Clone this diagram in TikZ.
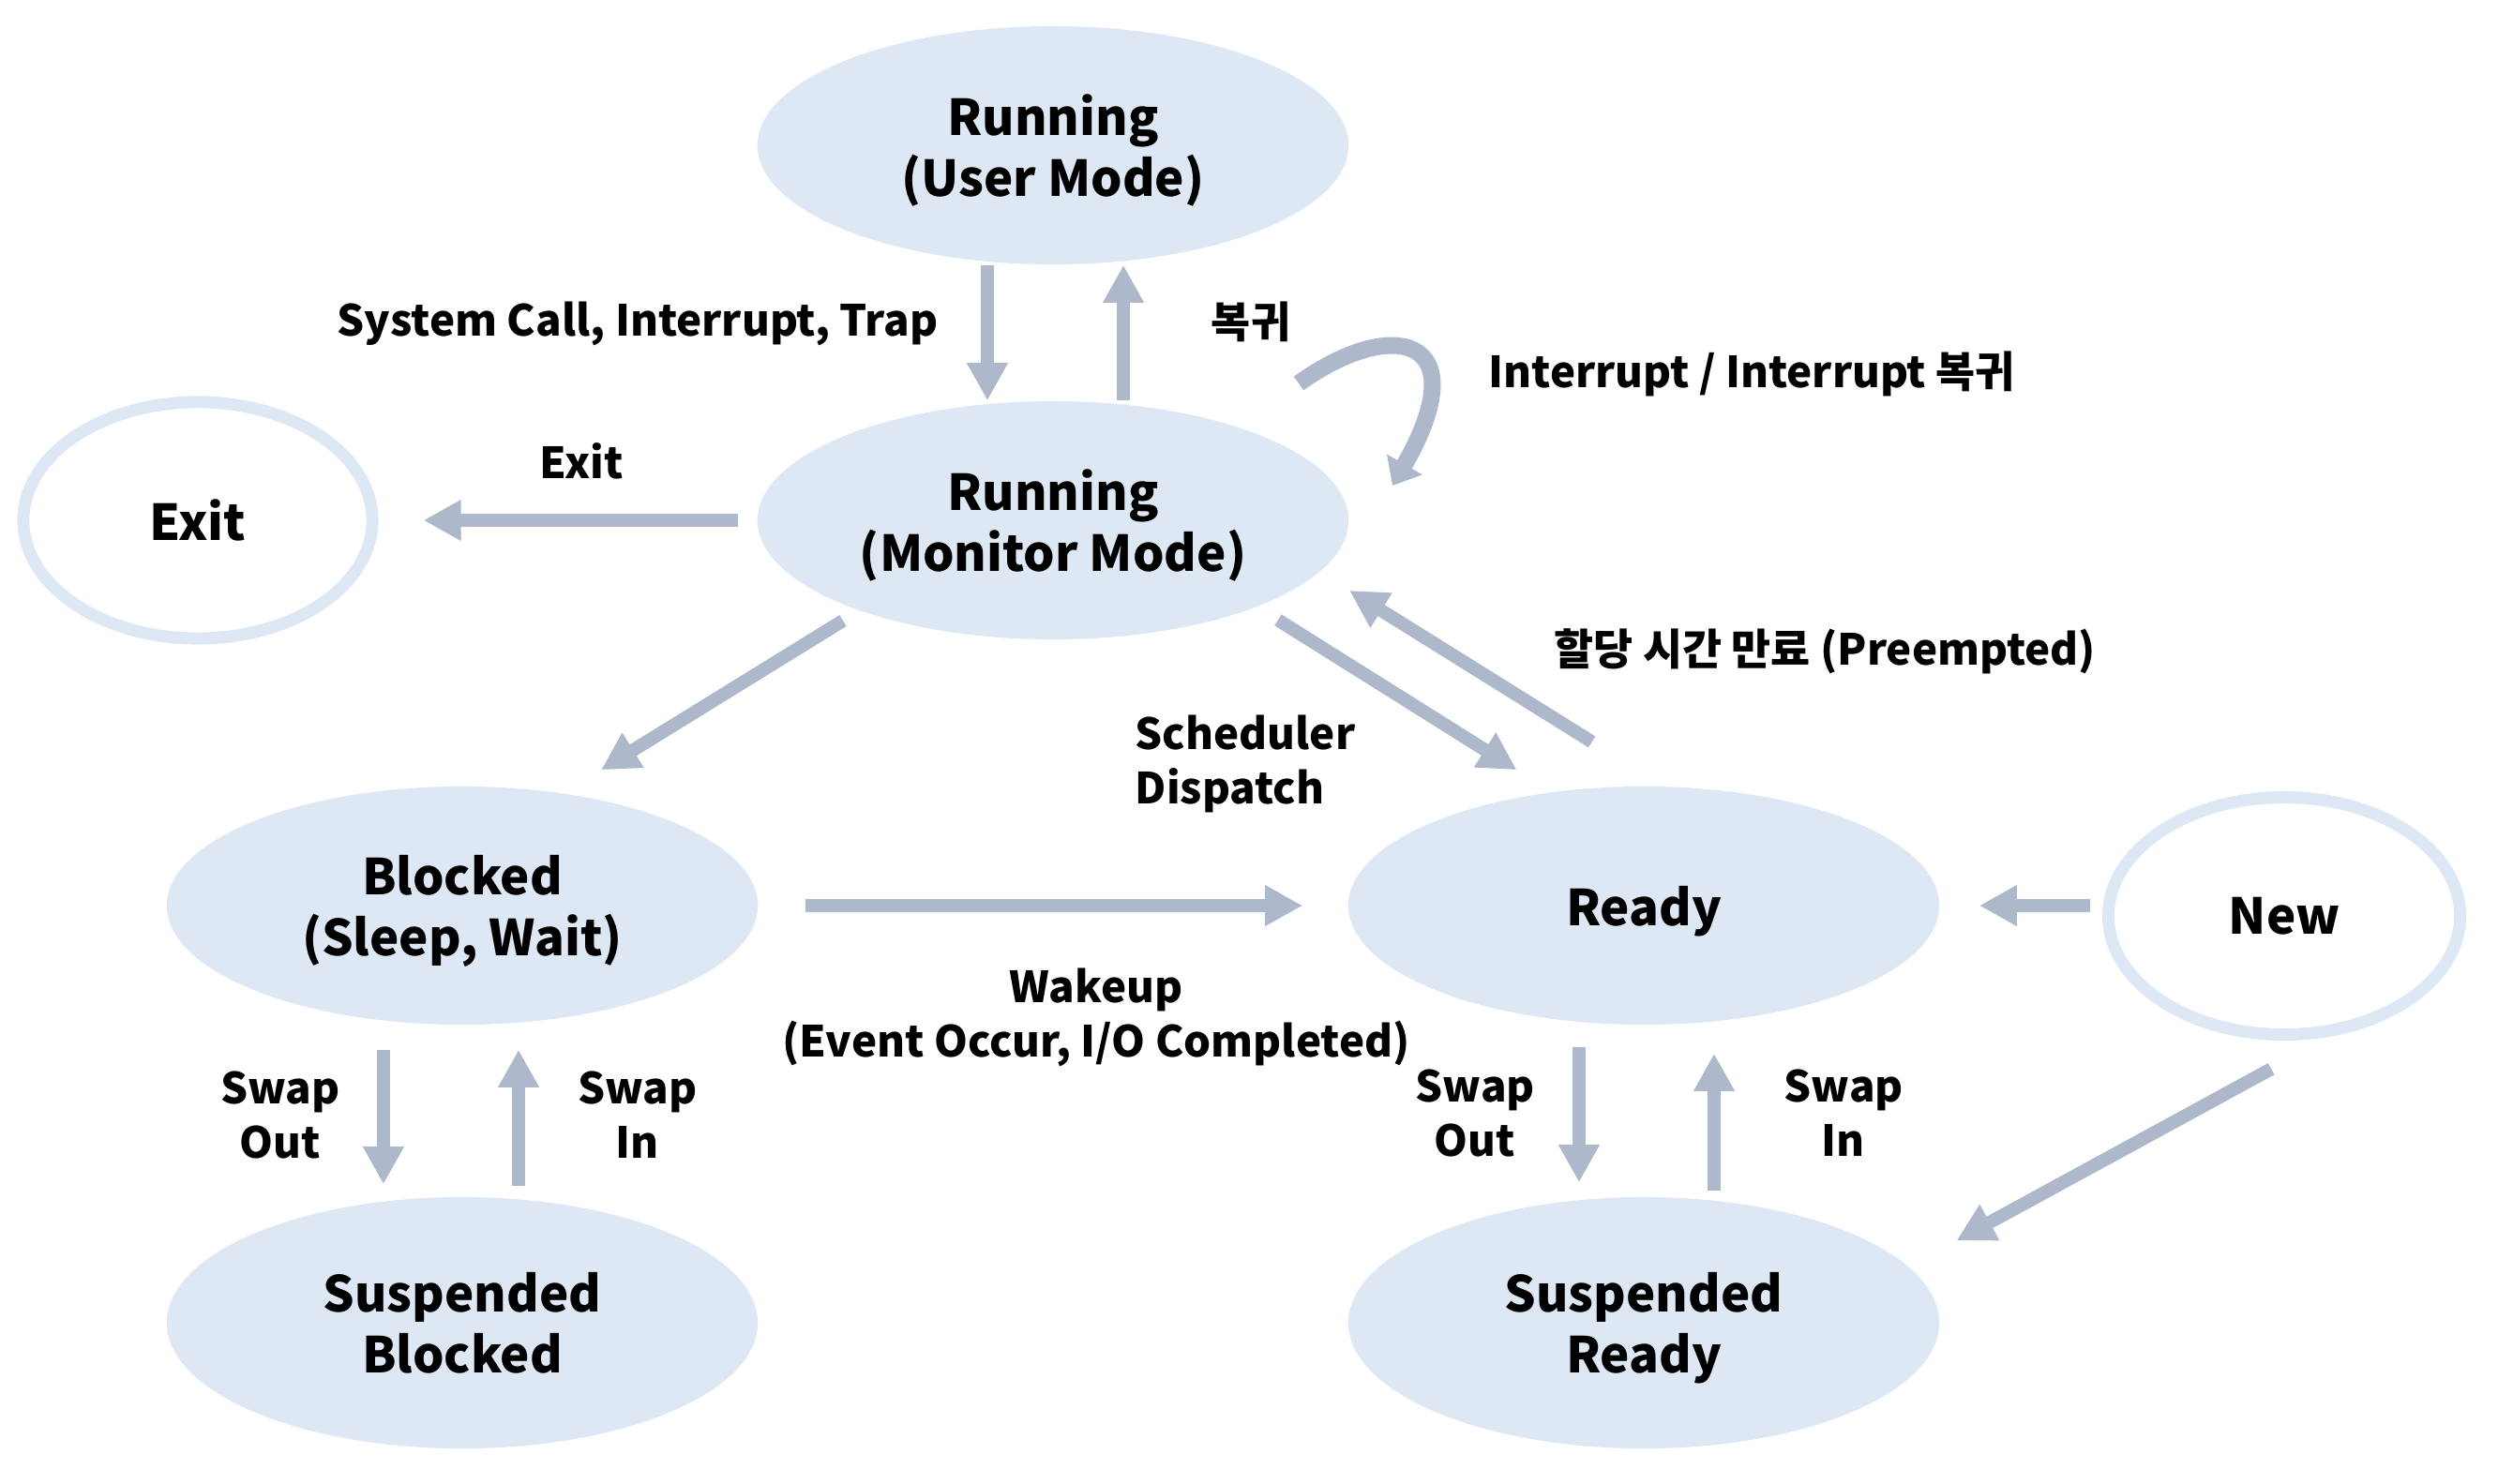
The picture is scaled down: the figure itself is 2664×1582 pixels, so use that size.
\documentclass[tikz,border=0pt]{standalone}
\usepackage{fontspec}
\setmainfont{Noto Sans CJK KR}
\usetikzlibrary{arrows.meta}
\usetikzlibrary{shapes.geometric}
\definecolor{statefill}{RGB}{222,232,245}
\definecolor{flowgray}{RGB}{173,185,202}
\tikzset{
  state/.style={ellipse, fill=statefill, inner sep=0pt, minimum width=6.3cm, minimum height=2.54cm,
    text depth=0pt, align=center, font=\fontsize{15}{18.5}\selectfont\bfseries},
  ring/.style={ellipse, draw=statefill, line width=0.13cm, inner sep=0pt, minimum width=3.72cm,
    minimum height=2.52cm, align=center, font=\fontsize{15}{18.5}\selectfont\bfseries},
  flow/.style={draw=flowgray, line width=0.14cm, -{Triangle[length=0.4cm, width=0.41cm]}},
  lbl/.style={font=\fontsize{13}{16.5}\selectfont\bfseries, inner sep=0pt, align=center},
}

\begin{document}
\begin{tikzpicture}[x=0.01cm, y=-0.01cm]
  \useasboundingbox (0,0) rectangle (2664,1582);

  % states
  \node[state] (user) at (1123,155) {Running\\(User Mode)};
  \node[state] (mon) at (1123,555) {Running\\(Monitor Mode)};
  \node[ring] (exit) at (211,555) {Exit};
  \node[state] (blk) at (493,966) {Blocked\\(Sleep, Wait)};
  \node[state] (rdy) at (1753,966) {Ready};
  \node[ring, minimum width=3.75cm, minimum height=2.53cm] (new) at (2436,977) {New};
  \node[state, minimum height=2.68cm] (sblk) at (493,1411) {Suspended\\Blocked};
  \node[state, minimum height=2.68cm] (srdy) at (1753,1411) {Suspended\\Ready};

  % user <-> monitor
  \draw[flow] ([xshift=-0.7cm]user.south) -- ([xshift=-0.7cm]mon.north);
  \draw[flow] ([xshift=0.75cm]mon.north) -- ([xshift=0.75cm]user.south);
  \coordinate (loopS) at ([shift={(262,-146)}]mon.center);
  \coordinate (loopE) at ([shift={(362,-37)}]mon.center);
  \draw[flow, line width=0.18cm, -{Triangle[length=0.26cm, width=0.42cm]}] (loopS) .. controls +(100,-72) and +(92,-160) .. (loopE);

  \draw[flow, shorten <=0.2cm, shorten >=0.48cm] (mon.west) -- (exit.east);
  \draw[flow, shorten <=0.2cm, shorten >=0.47cm] (mon.205) -- (blk.48);
  \draw[flow, shorten <=0.26cm, shorten >=0.44cm] (mon.337) -- (rdy.129);
  \draw[flow, shorten <=0.89cm, shorten >=0.37cm] (rdy.81.5) -- (mon.349);
  \draw[flow, shorten <=0.5cm, shorten >=0.48cm] (blk.east) -- (rdy.west);

  % swapping
  \draw[flow, shorten <=0.26cm, shorten >=0.13cm] ([xshift=-0.84cm]blk.south) -- ([xshift=-0.84cm]sblk.north);
  \draw[flow, shorten <=0.11cm, shorten >=0.26cm] ([xshift=0.6cm]sblk.north) -- ([xshift=0.6cm]blk.south);
  \draw[flow, shorten <=0.23cm, shorten >=0.15cm] ([xshift=-0.69cm]rdy.south) -- ([xshift=-0.69cm]srdy.north);
  \draw[flow, shorten <=0.06cm, shorten >=0.3cm] ([xshift=0.75cm]srdy.north) -- ([xshift=0.75cm]rdy.south);

  % new process
  \draw[flow, shorten <=0.13cm, shorten >=0.42cm] (new.west |- rdy.east) -- (rdy.east);
  \draw[flow, shorten <=0.72cm, shorten >=0.58cm] (new.291) -- (srdy.12);

  % labels
  \node[lbl, anchor=east] (syscall) at (1001,345) {System Call, Interrupt, Trap};
  \node[lbl] (ret) at (1334,343) {복귀};
  \node[lbl, anchor=west] (intr) at (1587,399) {Interrupt / Interrupt 복귀};
  \node[lbl] (exitlbl) at (620,492) {Exit};
  \node[lbl, anchor=west] (preempt) at (1657,695) {할당 시간 만료 (Preempted)};
  \node[lbl, anchor=west, align=left] (dispatch) at (1210,815) {Scheduler\\Dispatch};
  \node[lbl] (wakeup) at (1169,1085) {Wakeup\\(Event Occur, I/O Completed)};
  \node[lbl] (outL) at (299,1189) {Swap\\Out};
  \node[lbl] (inL) at (680,1189) {Swap\\In};
  \node[lbl] (outR) at (1573,1187) {Swap\\Out};
  \node[lbl] (inR) at (1966,1187) {Swap\\In};
\end{tikzpicture}
\end{document}
